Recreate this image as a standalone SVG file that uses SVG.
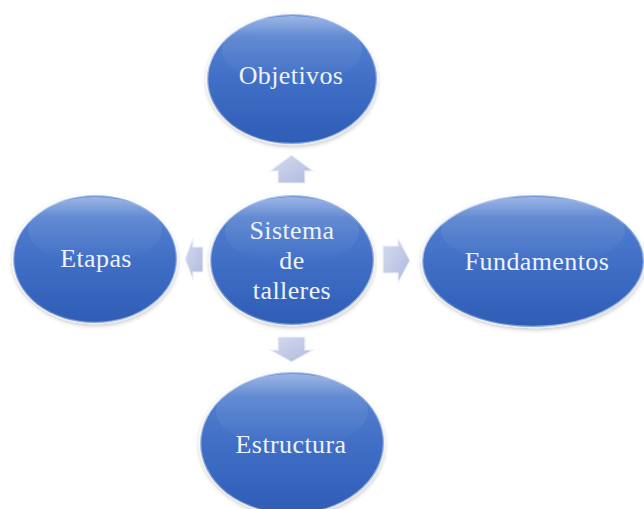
<svg xmlns="http://www.w3.org/2000/svg" width="644" height="509" viewBox="0 0 644 509">
<defs>
<linearGradient id="fill" x1="0" y1="0" x2="0" y2="1">
<stop offset="0" stop-color="#5b86d3"/>
<stop offset="0.5" stop-color="#416fc6"/>
<stop offset="1" stop-color="#2e5db6"/>
</linearGradient>
<linearGradient id="gloss" x1="0" y1="0" x2="0" y2="1">
<stop offset="0" stop-color="#ffffff" stop-opacity="0.4"/>
<stop offset="0.3" stop-color="#ffffff" stop-opacity="0.1"/>
<stop offset="1" stop-color="#ffffff" stop-opacity="0"/>
</linearGradient>
<linearGradient id="rim" x1="0" y1="0" x2="1" y2="1">
<stop offset="0" stop-color="#ffffff" stop-opacity="0.9"/>
<stop offset="0.5" stop-color="#ffffff" stop-opacity="0.15"/>
<stop offset="1" stop-color="#dfe8f8" stop-opacity="0.8"/>
</linearGradient>
<linearGradient id="arr" x1="0" y1="0" x2="1" y2="1">
<stop offset="0" stop-color="#d6dbef"/>
<stop offset="1" stop-color="#aeb9dd"/>
</linearGradient>
<filter id="sh" x="-10%" y="-10%" width="120%" height="125%">
<feGaussianBlur in="SourceAlpha" stdDeviation="2"/>
<feOffset dy="2"/>
<feComponentTransfer><feFuncA type="linear" slope="0.25"/></feComponentTransfer>
<feMerge><feMergeNode/><feMergeNode in="SourceGraphic"/></feMerge>
</filter>
</defs>
<style>
.body{fill:url(#fill);stroke:url(#rim);stroke-width:2.5;filter:url(#sh)}
.gl{fill:url(#gloss)}
.lbl{font-family:"Liberation Serif","Times New Roman",serif;font-size:26px;letter-spacing:0.4px;fill:#eef2fb;text-anchor:middle}
.ar{fill:url(#arr);stroke:#eef1f9;stroke-width:1.2}
</style>
<rect width="644" height="509" fill="#ffffff"/>
<g id="connectors">
<path class="ar" d="M278,183 L278,171 L270,171 L291.5,155 L313,171 L305,171 L305,183 Z"/>
<path class="ar" d="M278,337 L278,350 L270,350 L291.5,362 L313,350 L305,350 L305,337 Z"/>
<path class="ar" d="M383,246 L398,246 L398,238 L410,260.5 L398,283 L398,273 L383,273 Z"/>
<path class="ar" d="M203,247 L193,247 L193,238 L185,259 L193,280 L193,272 L203,272 Z"/>
</g>
<g id="node-objetivos">
<ellipse class="body" cx="292" cy="79" rx="85" ry="65"/>
<ellipse class="gl" cx="292" cy="50" rx="70" ry="34"/>
<text class="lbl" x="291" y="84">Objetivos</text>
</g>
<g id="node-etapas">
<ellipse class="body" cx="95" cy="259" rx="82" ry="64"/>
<ellipse class="gl" cx="95" cy="230" rx="67" ry="33"/>
<text class="lbl" x="96" y="267">Etapas</text>
</g>
<g id="node-fundamentos">
<ellipse class="body" cx="533" cy="261" rx="111" ry="66"/>
<ellipse class="gl" cx="533" cy="231" rx="92" ry="34"/>
<text class="lbl" x="537" y="270">Fundamentos</text>
</g>
<g id="node-estructura">
<ellipse class="body" cx="292" cy="443" rx="92" ry="71"/>
<ellipse class="gl" cx="292" cy="411" rx="76" ry="37"/>
<text class="lbl" x="291" y="453">Estructura</text>
</g>
<g id="node-sistema">
<ellipse class="body" cx="292" cy="260" rx="82" ry="65"/>
<ellipse class="gl" cx="292" cy="231" rx="67" ry="34"/>
<text class="lbl" x="292" y="239">Sistema</text>
<text class="lbl" x="292" y="269">de</text>
<text class="lbl" x="292" y="299">talleres</text>
</g>
</svg>
